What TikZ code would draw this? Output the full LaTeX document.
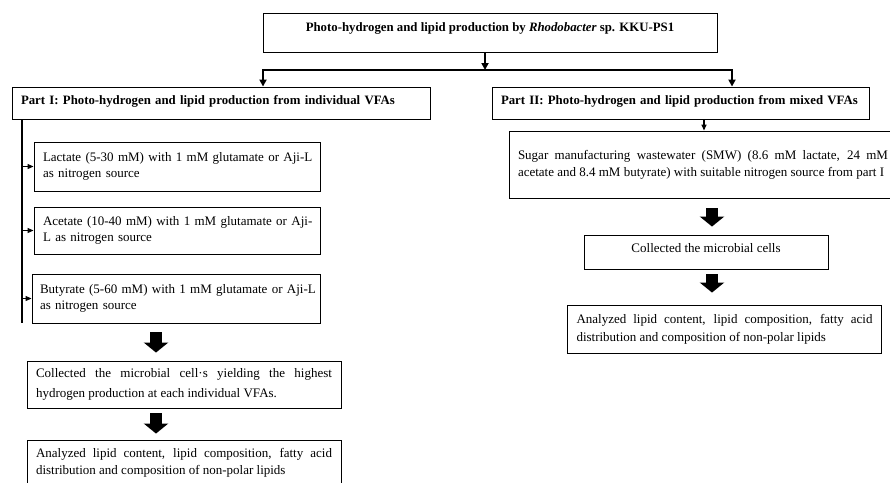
\documentclass[tikz,border=0pt]{standalone}
\usepackage{fontspec}
\setmainfont{Liberation Serif}
\usetikzlibrary{arrows.meta}
\usetikzlibrary{positioning}
\tikzset{
    blk/.style={
           rectangle,
           draw=black, line width=0.9pt,
           inner sep=0pt,
           font=\fontsize{13}{16.7}\selectfont,
           },
    head/.style={
           blk,
           font=\fontsize{12.8}{16.7}\selectfont\bfseries,
           },
    fat/.style={line width=12pt, -{Triangle[length=10pt,width=24pt]}},
    trunk/.style={line width=1.8pt},
    arr/.style={line width=1.8pt, {Triangle[length=7pt,width=7pt]}-{Triangle[length=7pt,width=7pt]}},
    arrone/.style={line width=1.8pt, -{Triangle[length=7pt,width=7pt]}},
    tip/.style={line width=1pt, -{Triangle[length=6pt,width=5pt]}},
}

\begin{document}
\begin{tikzpicture}[x=1pt,y=-1pt]

 \useasboundingbox (0,0) rectangle (890,482);

 % top box
 \node[head, minimum width=454pt, text height=18.5pt, text depth=20.5pt] (TITLE) at (490,32.5)
 {Photo-hydrogen and lipid production by \textit{Rhodobacter} sp. KKU-PS1};

 % the two parts
 \node[head, text width=400pt, align=left, inner xsep=9pt,
  text height=17.5pt, text depth=14.5pt] (PARTI) at (221,103)
 {\mbox{Part I: Photo-hydrogen and lipid production from individual VFAs}};
 \node[head, text width=359pt, align=left, inner xsep=9pt,
  text height=17.5pt, text depth=14.5pt] (PARTII) at (680.5,103)
 {\mbox{Part II: Photo-hydrogen and lipid production from mixed VFAs}};

 % Part I: single VFAs
 \node[blk, text width=268pt, align=left, inner xsep=9pt, minimum height=49pt] (LAC) at (177,166.5)
 {\mbox{Lactate (5-30 mM) with 1 mM glutamate or Aji-L}\\
  as nitrogen source};
 \node[blk, text width=268pt, align=left, inner xsep=9pt, minimum height=47pt,
  below of=LAC, node distance=64pt, anchor=center] (ACE)
 {\mbox{Acetate (10-40 mM) with 1 mM glutamate or Aji-}\\
  L as nitrogen source};
 \node[blk, text width=272pt, align=left, inner xsep=8pt, minimum height=49pt,
  below of=ACE, node distance=68pt, xshift=-1pt, anchor=center] (BUTY)
 {\mbox{Butyrate (5-60 mM) with 1 mM glutamate or Aji-L}\\
  as nitrogen source};

 \node[blk, text width=296pt, align=justify, inner xsep=9pt, minimum height=47pt,
  font=\fontsize{13}{20.7}\selectfont] (COLLL) at (184,384.5)
 {Collected the microbial cell·s yielding the highest\linebreak
  hydrogen production at each individual VFAs.};
 \node[blk, text width=296pt, align=justify, inner xsep=9pt, minimum height=46pt,
  font=\fontsize{13}{17.3}\selectfont,
  below of=COLLL, node distance=78.5pt, anchor=center] (ANAL)
 {Analyzed lipid content, lipid composition, fatty acid\linebreak
  distribution and composition of non-polar lipids};

 % Part II: mixed VFAs
 \node[blk, text width=370pt, align=justify, inner xsep=9pt, minimum height=67pt] (SMW) at (703,164.5)
 {Sugar manufacturing wastewater (SMW) (8.6 mM lactate, 24 mM\linebreak
  \mbox{acetate and 8.4 mM butyrate) with suitable nitrogen source from part I}};
 \node[blk, minimum width=244pt, text height=17.5pt, text depth=16.5pt,
  below of=SMW, node distance=87.5pt, xshift=3pt, anchor=center] (COLLR)
 {Collected the microbial cells};
 \node[blk, text width=296pt, align=justify, inner xsep=9pt, minimum height=48pt,
  font=\fontsize{13}{17.7}\selectfont,
  below of=COLLR, node distance=77pt, xshift=18.5pt, anchor=center] (ANAR)
 {Analyzed lipid content, lipid composition, fatty acid\linebreak
  distribution and composition of non-polar lipids};

 % split below the top box
 \coordinate (JL) at (263,70);
 \coordinate (JR) at (732,70);
 \draw[arrone] ([xshift=-5pt]TITLE.south) -- ([xshift=-5pt]TITLE.south |- JL);
 \draw[arr] (JL |- PARTI.north) -- (JL) -- (JR) -- (JR |- PARTII.north);

 % spine of part I
 \coordinate (SPINE) at (22,323);
 \draw[trunk] (PARTI.south -| SPINE) -- (SPINE);
 \draw[tip] (LAC.west -| SPINE) -- (LAC.west);
 \draw[tip] (ACE.west -| SPINE) -- (ACE.west);
 \draw[tip] (BUTY.west -| SPINE) -- (BUTY.west);

 \draw[tip, line width=1.4pt] ([xshift=1pt]PARTII.south -| SMW.north) -- ([xshift=1pt]SMW.north);

 % block arrows
 \draw[fat, shorten <=9pt, shorten >=8pt] ([xshift=-20pt]BUTY.south) -- ([xshift=-28pt]COLLL.north);
 \draw[fat, shorten <=5pt, shorten >=6pt] ([xshift=-28pt]COLLL.south) -- ([xshift=-28pt]ANAL.north);
 \draw[fat, shorten <=10pt, shorten >=8pt] ([xshift=9pt]SMW.south) -- ([xshift=6pt]COLLR.north);
 \draw[fat, shorten <=5pt, shorten >=12pt] ([xshift=6pt]COLLR.south) -- ([xshift=-12.5pt]ANAR.north);

\end{tikzpicture}
\end{document}
